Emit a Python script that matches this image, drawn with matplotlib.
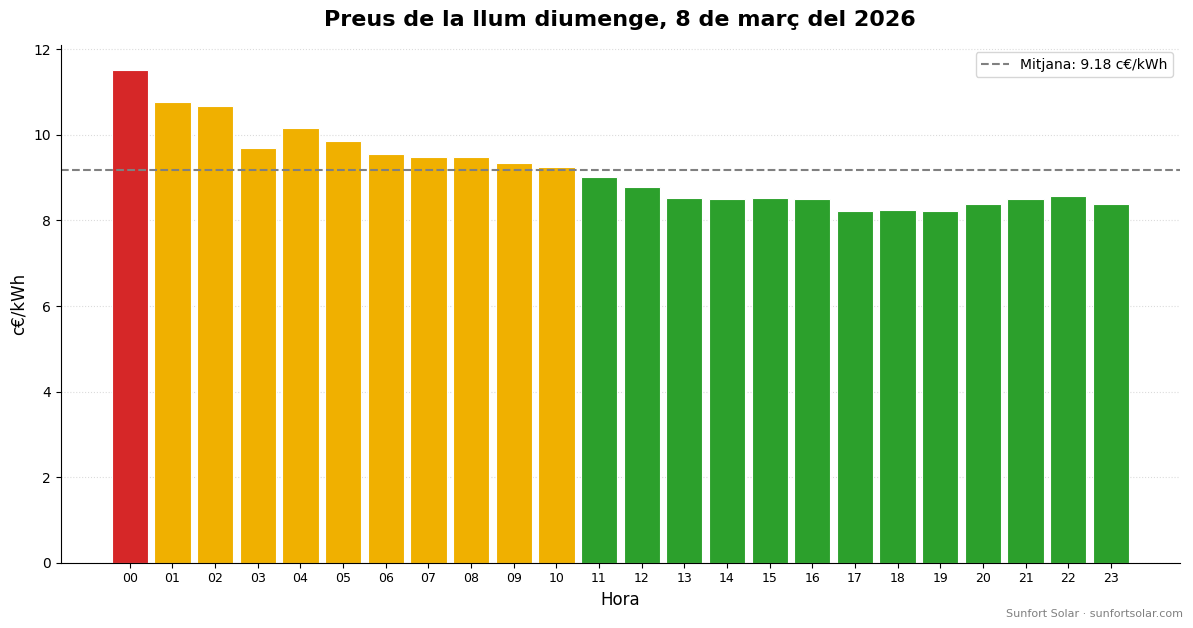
import matplotlib
matplotlib.use("Agg")
import matplotlib.pyplot as plt

# hourly prices (c€/kWh)
hores = [f"{h:02d}" for h in range(24)]
preus = [11.52, 10.77, 10.68, 9.70, 10.17, 9.86, 9.56, 9.49, 9.49, 9.35, 9.26,
         9.02, 8.79, 8.53, 8.51, 8.53, 8.49, 8.21, 8.25, 8.21, 8.39, 8.49, 8.58, 8.39]
mitjana = 9.18
colors = ["#d62728"] + ["#f0b000"] * 10 + ["#2ca02c"] * 13

fig, ax = plt.subplots(figsize=(11.93, 6.28), dpi=100)
ax.bar(range(len(hores)), preus, width=0.85, color=colors, edgecolor="white", linewidth=0.8)
ax.axhline(mitjana, color="gray", linestyle="--", linewidth=1.5,
           label=f"Mitjana: {mitjana:.2f} c€/kWh")

ax.set_xticks(range(len(hores)))
ax.set_xticklabels(hores, fontsize=9)
ax.tick_params(axis="y", labelsize=10)
ax.set_xlabel("Hora", fontsize=12)
ax.set_ylabel("c€/kWh", fontsize=12)
ax.set_title("Preus de la llum diumenge, 8 de març del 2026", fontsize=16,
             fontweight="bold", pad=14)
ax.grid(axis="y", linestyle=":", color="lightgray", alpha=0.8)
ax.set_axisbelow(True)
ax.spines["top"].set_visible(False)
ax.spines["right"].set_visible(False)
ax.legend(loc="upper right", fontsize=10)

fig.text(0.992, 0.015, "Sunfort Solar · sunfortsolar.com", ha="right", va="bottom",
         fontsize=8, color="gray")
fig.subplots_adjust(left=0.051, right=0.989, top=0.928, bottom=0.104)
fig.savefig("out.png", dpi=100)
